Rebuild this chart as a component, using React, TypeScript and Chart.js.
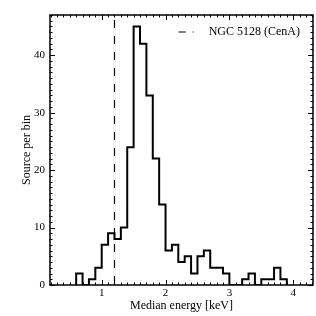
import React, { useEffect, useRef } from "react";
import { Chart, registerables } from "chart.js";

Chart.register(...registerables);

// ---- data ----
const binStarts = [
  0.6, 0.7, 0.8, 0.9, 1.0, 1.1, 1.2, 1.3, 1.4, 1.5, 1.6, 1.7, 1.8, 1.9, 2.0, 2.1, 2.2,
  2.3, 2.4, 2.5, 2.6, 2.7, 2.8, 2.9, 3.0, 3.1, 3.2, 3.3, 3.4, 3.5, 3.6, 3.7, 3.8,
];
const counts = [
  2, 0, 1, 3, 7, 9, 8, 10, 24, 45, 42, 33, 22, 14, 6, 7, 4, 5, 2, 5, 6, 3, 3, 2, 0, 0,
  1, 2, 0, 1, 1, 3, 1,
];
const binWidth = 0.1;
const cenAEnergy = 1.2;
const legendLabel = "NGC 5128 (CenA)";
const xTicks = [1, 2, 3, 4];
const yTicks = [0, 10, 20, 30, 40];
const xRange = [0.19, 4.31];
const yRange = [0, 47];
const xTitle = "Median energy [keV]";
const yTitle = "Source per bin";

const FONT = "'Liberation Serif', 'DejaVu Serif', serif";

const framePlugin = {
  id: "frameTicks",
  afterDraw(chart: any) {
    const { ctx, chartArea, scales } = chart;
    const xs = scales.x;
    const ys = scales.y;
    const { left, right, top, bottom } = chartArea;
    ctx.save();
    ctx.strokeStyle = "#000";
    // ticks
    ctx.lineWidth = 1;
    const drawX = (v: number, len: number) => {
      const px = Math.round(xs.getPixelForValue(v)) + 0.5;
      ctx.beginPath();
      ctx.moveTo(px, bottom);
      ctx.lineTo(px, bottom - len);
      ctx.moveTo(px, top);
      ctx.lineTo(px, top + len);
      ctx.stroke();
    };
    const drawY = (v: number, len: number) => {
      const py = Math.round(ys.getPixelForValue(v)) + 0.5;
      ctx.beginPath();
      ctx.moveTo(left, py);
      ctx.lineTo(left + len, py);
      ctx.moveTo(right, py);
      ctx.lineTo(right - len, py);
      ctx.stroke();
    };
    for (let i = Math.ceil(xRange[0] * 10); i <= Math.floor(xRange[1] * 10); i++) {
      const v = i / 10;
      const major = xTicks.some((t) => Math.abs(t - v) < 1e-6);
      drawX(v, major ? 5 : 2.5);
    }
    for (let v = Math.ceil(yRange[0]); v <= Math.floor(yRange[1]); v++) {
      const major = yTicks.includes(v);
      drawY(v, major ? 5 : 2.5);
    }
    // frame
    ctx.lineWidth = 1.5;
    ctx.strokeRect(left, top, right - left, bottom - top);

    // legend (upper right, inside the axes)
    const ly = top + 17;
    const textRight = right - 13;
    ctx.fillStyle = "#000";
    ctx.font = `12px ${FONT}`;
    ctx.textBaseline = "middle";
    ctx.textAlign = "right";
    ctx.fillText(legendLabel, textRight, ly);
    const tw = ctx.measureText(legendLabel).width;
    const tx = textRight - tw;
    ctx.lineWidth = 1.2;
    ctx.setLineDash([7, 7]);
    ctx.beginPath();
    ctx.moveTo(tx - 30, ly);
    ctx.lineTo(tx - 15, ly);
    ctx.stroke();
    ctx.setLineDash([]);
    ctx.restore();
  },
};

export default function App() {
  const ref = useRef<HTMLCanvasElement>(null);

  useEffect(() => {
    if (!ref.current) return;
    const histPoints = [
      { x: binStarts[0], y: 0 },
      ...binStarts.map((x, i) => ({ x, y: counts[i] })),
      { x: binStarts[binStarts.length - 1] + binWidth, y: 0 },
    ];
    const chart = new Chart(ref.current, {
      type: "line",
      data: {
        datasets: [
          {
            label: "hist",
            data: histPoints,
            stepped: true,
            borderColor: "#000",
            borderWidth: 2,
            pointRadius: 0,
            fill: false,
          },
          {
            label: legendLabel,
            data: [
              { x: cenAEnergy, y: yRange[1] },
              { x: cenAEnergy, y: yRange[0] },
            ],
            borderColor: "#000",
            borderWidth: 1.2,
            borderDash: [8, 8],
            borderDashOffset: 11,
            pointRadius: 0,
            fill: false,
          },
        ],
      },
      options: {
        animation: false,
        responsive: true,
        maintainAspectRatio: false,
        layout: { padding: { left: 0, right: 3, top: 15, bottom: 0 } },
        plugins: {
          legend: { display: false },
          tooltip: { enabled: false },
        },
        scales: {
          x: {
            type: "linear",
            min: xRange[0],
            max: xRange[1],
            afterBuildTicks: (s: any) => {
              s.ticks = xTicks.map((v) => ({ value: v }));
            },
            afterFit: (s: any) => {
              s.height = 31;
            },
            grid: { display: false, drawTicks: false },
            border: { display: false },
            ticks: {
              color: "#000",
              padding: 2,
              font: { family: FONT, size: 11 },
              maxRotation: 0,
              callback: (v: any) => String(v),
            },
            title: {
              display: true,
              text: xTitle,
              color: "#000",
              font: { family: FONT, size: 12 },
              padding: { top: 0, bottom: 3 },
            },
          },
          y: {
            type: "linear",
            min: yRange[0],
            max: yRange[1],
            afterBuildTicks: (s: any) => {
              s.ticks = yTicks.map((v) => ({ value: v }));
            },
            afterFit: (s: any) => {
              s.width = 50;
            },
            grid: { display: false, drawTicks: false },
            border: { display: false },
            ticks: {
              color: "#000",
              padding: 5,
              font: { family: FONT, size: 11 },
              callback: (v: any) => String(v),
            },
            title: {
              display: true,
              text: yTitle,
              color: "#000",
              font: { family: FONT, size: 12 },
              padding: { top: 20, bottom: 0 },
            },
          },
        },
      },
      plugins: [framePlugin],
    });
    return () => chart.destroy();
  }, []);

  return (
    <div style={{ position: "fixed", left: 0, top: 0, width: 316, height: 316, background: "#fff" }}>
      <canvas ref={ref} />
    </div>
  );
}
